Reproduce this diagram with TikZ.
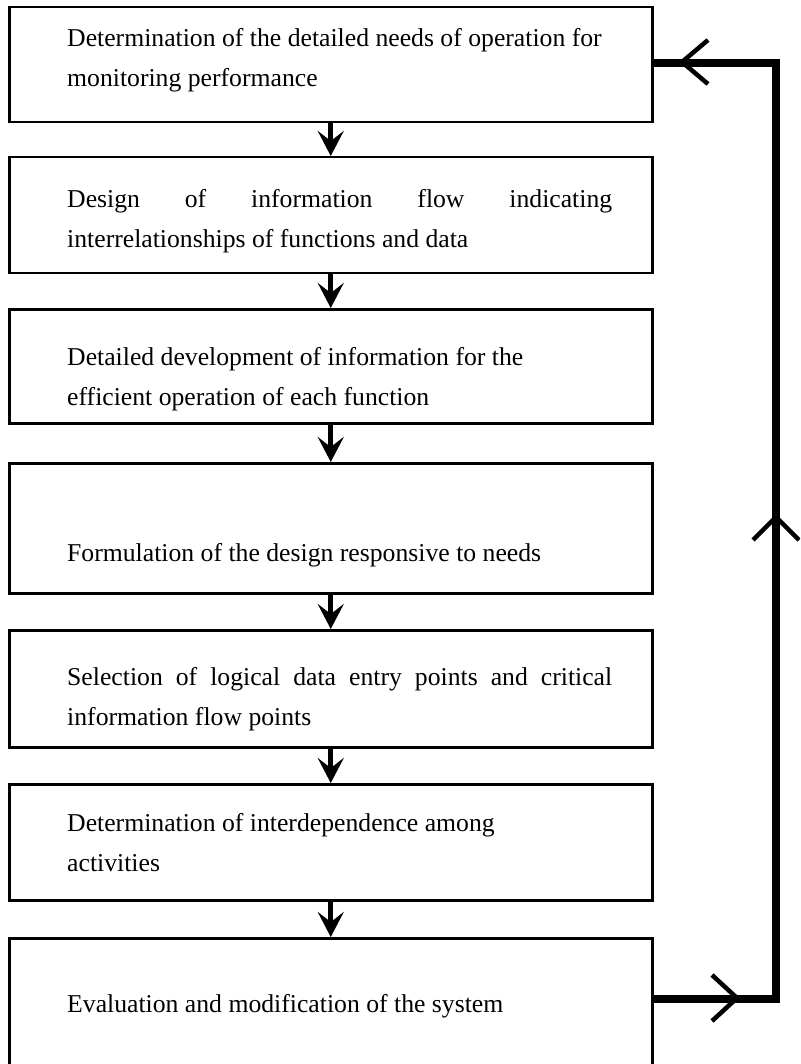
\documentclass[tikz,border=0pt]{standalone}
\usepackage{fontspec}
\setmainfont{Liberation Serif}
\usetikzlibrary{arrows.meta}
\begin{document}
\begin{tikzpicture}[x=1pt,y=-1pt,
  box/.style={draw, line width=2.5pt, rectangle, anchor=north west, inner sep=0pt, minimum width=643pt},
  txt/.style={anchor=base west, inner sep=0pt, font=\fontsize{25.7}{40}\selectfont},
  downarr/.style={line width=5pt, -{Stealth[length=25pt,width=26pt,inset=10pt]}},
  fb/.style={line width=8pt, line join=miter},
  chev/.style={line width=4.5pt, line join=miter}]
\useasboundingbox (0,0) rectangle (800,1064);
\clip (0,0) rectangle (800,1064);
\fill[white] (0,0) rectangle (800,1064);
% boxes
\node[box, minimum height=115pt] (b1) at (8,6) {};
\node[box, minimum height=116pt] (b2) at (8,156) {};
\node[box, minimum height=114pt] (b3) at (8,308) {};
\node[box, minimum height=130pt] (b4) at (8,462) {};
\node[box, minimum height=117pt] (b5) at (8,629) {};
\node[box, minimum height=116pt] (b6) at (8,783) {};
\node[box, minimum height=127.5pt] (b7) at (8,937) {};
% texts
\node[txt] (t1a) at (67,47) {Determination of the detailed needs of operation for};
\node[txt] (t1b) at (67,87) {monitoring performance};
\node[txt] (t2a) at (67,208) {\makebox[545pt][s]{Design of information flow indicating}};
\node[txt] (t2b) at (67,248) {interrelationships of functions and data};
\node[txt] (t3a) at (67,365) {Detailed development of information for the};
\node[txt] (t3b) at (67,405) {efficient operation of each function};
\node[txt] (t4) at (67,561) {Formulation of the design responsive to needs};
\node[txt] (t5a) at (67,685) {\makebox[545pt][s]{Selection of logical data entry points and critical}};
\node[txt] (t5b) at (67,725) {information flow points};
\node[txt] (t6a) at (67,831) {Determination of interdependence among};
\node[txt] (t6b) at (67,871) {activities};
\node[txt] (t7) at (67,1012) {Evaluation and modification of the system};
% down arrows
\draw[downarr] (b1.south) -- (b2.north);
\draw[downarr] (b2.south) -- (b3.north);
\draw[downarr] (b3.south) -- (b4.north);
\draw[downarr] (b4.south) -- (b5.north);
\draw[downarr] (b5.south) -- (b6.north);
\draw[downarr] (b6.south) -- (b7.north);
% feedback loop
\coordinate (fr) at (776,0);
\coordinate (fbot) at ([yshift=3pt]b7.east);
\coordinate (ftop) at ([yshift=1.5pt]b1.east);
\draw[fb] (fbot) -- (fbot -| fr) -- (ftop -| fr) -- (ftop);
% chevrons on the loop
\draw[chev] (708,40) -- (682,62) -- (708,84);
\draw[chev] (712,975) -- (737,998) -- (712,1021);
\draw[chev] (753,540) -- (776,517) -- (799,540);
\end{tikzpicture}
\end{document}
